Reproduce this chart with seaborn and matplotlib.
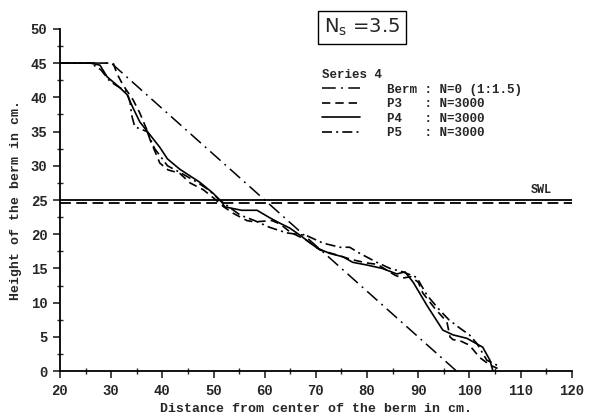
import matplotlib
matplotlib.use("Agg")
import matplotlib.pyplot as plt
import seaborn as sns
import pandas as pd
from matplotlib.lines import Line2D
from matplotlib.ticker import MultipleLocator

sns.set_theme(style="ticks")
plt.rcParams["font.family"] = ["Liberation Mono", "DejaVu Sans Mono"]

# Initial berm profile (slope 1:1.5)
berm_x = [20, 30, 97.5]
berm_y = [45, 45, 0]

# Profile P3, N=3000
p3_x = [20, 30.4, 31.1, 32.3, 34.3, 35.6, 37, 37.6, 39.5, 41.1, 43.4, 45.4, 48, 50, 52,
        54, 56.5, 58, 61.4, 63, 65, 68, 70.8, 74, 77, 80, 82, 85.5, 87, 88.5, 90, 90.9,
        93.2, 95.6, 96.2, 96.8, 98, 100, 102, 104, 105.5]
p3_y = [45, 45, 43.5, 41.8, 39.6, 37.7, 35.2, 33.8, 30.4, 29.4, 28.9, 27.5, 26.5, 25.3, 24,
        23, 22, 21.8, 22, 21.5, 20.3, 19.2, 17.7, 17, 16.3, 15.8, 15.6, 14, 13.6, 13.8, 13, 11.4,
        9.2, 7.2, 5, 4.6, 4.5, 3.8, 2, 0.9, 0.4]

# Profile P4, N=3000
p4_x = [20, 25.9, 27.8, 29.2, 31.7, 33.1, 34.3, 35.6, 37.6, 39.5, 41, 43.4, 47.3, 49.9, 51.6,
        52.2, 55.5, 58.5, 61, 63, 64.9, 67, 70.2, 72.7, 75.3, 77.2, 80, 83, 85.8, 87.4, 89,
        91.7, 94.8, 96.8, 99.5, 102.6, 104, 104.6]
p4_y = [45, 45, 44.7, 43, 41.4, 40.4, 38.4, 36.4, 34.5, 32.7, 31, 29.5, 27.6, 26, 24.7,
        24, 23.5, 23.5, 22.4, 21.6, 20.9, 19.8, 18, 17.2, 16.7, 15.9, 15.5, 15, 14.2, 14.5, 13,
        9.6, 6, 5.3, 4.8, 3.5, 1.6, 0]

# Profile P5, N=3000
p5_x = [20, 26, 28, 29.8, 31.5, 33.1, 33.7, 34, 34.6, 37, 38.5, 41, 43.5, 46.8, 49, 51.2,
        53, 55.2, 58, 61, 64.3, 68.2, 71.4, 74.7, 76.6, 78.6, 81.9, 84.5, 87, 89.7, 91.7,
        94.2, 96, 98.1, 100, 101.5, 103.4, 104.6, 106]
p5_y = [45, 45, 44, 42.3, 41.5, 40.8, 39.2, 37.4, 35.7, 35, 32.5, 30, 29, 27.6, 26.5, 25,
        24, 22.8, 22, 21, 20.2, 19.8, 18.7, 18.1, 18.1, 17.2, 15.9, 15, 14.5, 13.7, 11.1,
        8.9, 7.5, 6.3, 5.3, 4, 1.6, 1.2, 0.6]

# Still water levels
swl_levels = [25.0, 24.5]
legend_labels = ["Berm : N=0 (1:1.5)", "P3   : N=3000", "P4   : N=3000", "P5   : N=3000"]

fig = plt.figure(figsize=(6.0, 4.18), dpi=100)
ax = fig.add_axes([0.1, 0.112, 0.853, 0.819])

styles = [
    (berm_x, berm_y, (0, (9, 3.5, 1.2, 3.5)), 1.1),
    (p3_x, p3_y, (0, (5, 3)), 1.2),
    (p4_x, p4_y, "-", 1.2),
    (p5_x, p5_y, (0, (6, 2.5, 1.2, 2.5)), 1.2),
]
handles = []
for (xs, ys, ls, lw), lab in zip(styles, legend_labels):
    df = pd.DataFrame({"x": xs, "y": ys})
    sns.lineplot(data=df, x="x", y="y", ax=ax, color="black", linestyle=ls,
                 linewidth=lw, sort=False, estimator=None)
    handles.append(Line2D([], [], color="black", linestyle=ls, linewidth=lw))

ax.axhline(swl_levels[0], color="black", linewidth=1.3, linestyle="-")
ax.axhline(swl_levels[1], color="black", linewidth=1.3, linestyle=(0, (6, 3)))
ax.text(112, 25.6, "SWL", fontsize=8.5, fontweight="bold", ha="left", va="bottom")

ax.set_xlim(20, 120)
ax.set_ylim(0, 50)
ax.xaxis.set_major_locator(MultipleLocator(10))
ax.xaxis.set_minor_locator(MultipleLocator(5))
ax.yaxis.set_major_locator(MultipleLocator(5))
ax.yaxis.set_minor_locator(MultipleLocator(2.5))
ax.tick_params(which="major", direction="out", length=5, width=1.2, labelsize=10, pad=4)
ax.tick_params(which="minor", direction="inout", length=5, width=1.0)
for lab in ax.get_xticklabels() + ax.get_yticklabels():
    lab.set_fontweight("bold")
for side in ["top", "right"]:
    ax.spines[side].set_visible(False)
for side in ["left", "bottom"]:
    ax.spines[side].set_linewidth(1.3)
    ax.spines[side].set_color("black")

ax.set_xlabel("Distance from center of the berm in cm.", fontsize=9.5, fontweight="bold", labelpad=4)
ax.set_ylabel("Height of the berm in cm.", fontsize=9.5, fontweight="bold", labelpad=6)

leg = ax.legend(handles, legend_labels, title="Series 4", loc="upper left",
                bbox_to_anchor=(0.49, 0.915), frameon=False, handlelength=3.0,
                handletextpad=2.2, labelspacing=0.2, prop={"size": 9, "weight": "bold"},
                title_fontproperties={"size": 9, "weight": "bold"})
leg._legend_box.align = "left"

fig.text(0.603, 0.935, r"N$_\mathregular{s}$ =3.5", fontsize=14, family="DejaVu Sans",
         ha="center", va="center",
         bbox=dict(boxstyle="square,pad=0.3", facecolor="white", edgecolor="black", linewidth=1.0))

fig.savefig("out.png", dpi=100)
